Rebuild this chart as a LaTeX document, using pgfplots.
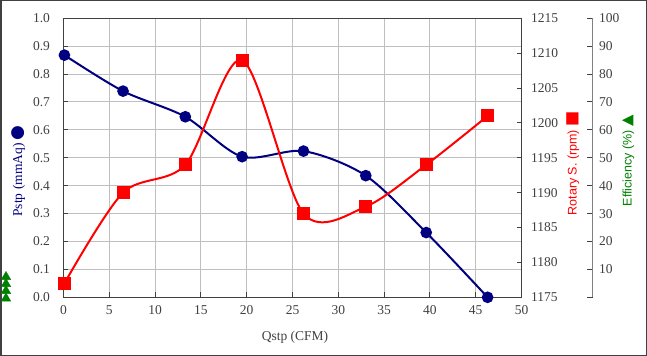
\documentclass[border=0pt]{standalone}
\usepackage{pgfplots}
\pgfplotsset{compat=1.18}
\usepackage{fontspec}
\setmainfont{Liberation Serif}
\setsansfont{Liberation Sans}
\newfontfamily\symfont{DejaVu Sans}
\definecolor{pblue}{HTML}{000080}
\definecolor{pred}{HTML}{FF0000}
\definecolor{pgreen}{HTML}{008000}
\definecolor{framec}{HTML}{404040}
\definecolor{gridc}{HTML}{BFBFBF}
\begin{document}
\begin{tikzpicture}[font=\fontsize{13.5bp}{15bp}\selectfont]
\useasboundingbox (0,0) rectangle (647bp,356bp);
\draw[framec, line width=1.5bp] (0.75bp,0.75bp) rectangle (646.25bp,355.25bp);

% Efficiency axis
\begin{axis}[
  at={(63.5bp,58.7bp)}, anchor=south west, scale only axis,
  width=529.2bp, height=279bp,
  xmin=0, xmax=1, ymin=0, ymax=100,
  axis x line=none, axis y line*=right,
  ytick={0,10,20,30,40,50,60,70,80,90,100},
  yticklabels={,10,20,30,40,50,60,70,80,90,100},
  tick align=inside, major tick length=6bp,
  y axis line style={gray, line width=1bp},
  ytick style={framec, line width=1bp},
  yticklabel style={xshift=3bp, text=framec},
  /pgf/number format/assume math mode=true,
  ylabel={{\sffamily\fontsize{12.5bp}{14bp}\selectfont Efficiency (\%)} {\symfont\fontsize{15bp}{15bp}\selectfont ▲}},
  ylabel style={at={(axis description cs:1.0667,0.49)}, anchor=center, text=pgreen},
  clip=false,
]
\addplot[only marks, mark=triangle*, mark size=5.5bp, pgreen] coordinates {
(-0.1087,7.3) (-0.1087,4.8) (-0.1087,2.3) (-0.1087,-0.4)};
\end{axis}

% Main axis
\begin{axis}[
  at={(63.5bp,58.7bp)}, anchor=south west, scale only axis,
  width=458bp, height=279bp,
  xmin=0, xmax=50, ymin=0, ymax=1,
  xtick={0,5,10,15,20,25,30,35,40,45,50},
  ytick={0,0.1,0.2,0.3,0.4,0.5,0.6,0.7,0.8,0.9,1.0},
  grid=major, major grid style={gridc, line width=1bp},
  axis line style={framec, line width=1bp},
  tick align=inside, major tick length=5bp,
  ytick pos=left, xtick pos=bottom,
  tick style={framec, line width=1bp},
  yticklabel style={/pgf/number format/fixed, /pgf/number format/fixed zerofill, /pgf/number format/precision=1, xshift=-10bp, text=framec},
  /pgf/number format/assume math mode=true,
  xticklabel style={yshift=-5bp, text=framec},
  xlabel={Qstp (CFM)},
  ylabel={Pstp (mmAq) {\symfont\fontsize{17bp}{17bp}\selectfont ●}},
  ylabel style={at={(axis description cs:-0.0993,0.453)}, anchor=center, text=pblue},
  xlabel style={at={(axis description cs:0.5055,-0.1448)}, anchor=center, text=framec},
]
\addplot[pblue, line width=2bp, smooth, mark=*, mark size=4.8bp] coordinates {
(0.1,0.868) (6.5,0.739) (13.3,0.647) (19.5,0.504) (26.2,0.524) (33.0,0.436) (39.6,0.232) (46.3,0.0)};
\end{axis}

% Rotary speed axis
\begin{axis}[
  at={(63.5bp,58.7bp)}, anchor=south west, scale only axis,
  width=458bp, height=279bp,
  xmin=0, xmax=50, ymin=1175, ymax=1215,
  axis x line=none, axis y line*=right,
  ytick={1175,1180,1185,1190,1195,1200,1205,1210,1215},
  scaled y ticks=false,
  tick align=inside, major tick length=5bp,
  y axis line style={framec, line width=1bp},
  ytick style={framec, line width=1bp},
  /pgf/number format/assume math mode=true,
  yticklabel style={/pgf/number format/1000 sep={}, xshift=6bp, text=framec},
  ylabel={{\sffamily\fontsize{12.5bp}{14bp}\selectfont Rotary S. (rpm)} {\symfont\fontsize{16bp}{16bp}\selectfont ■}},
  ylabel style={at={(axis description cs:1.112,0.48)}, anchor=center, text=pred},
  clip=false,
]
\addplot[pred, line width=2bp, smooth, mark=square*, mark size=5.5bp] coordinates {
(0.1,1177) (6.5,1190) (13.3,1194) (19.5,1209) (26.2,1187) (33.0,1188) (39.6,1194) (46.3,1201)};
\end{axis}
\end{tikzpicture}
\end{document}
